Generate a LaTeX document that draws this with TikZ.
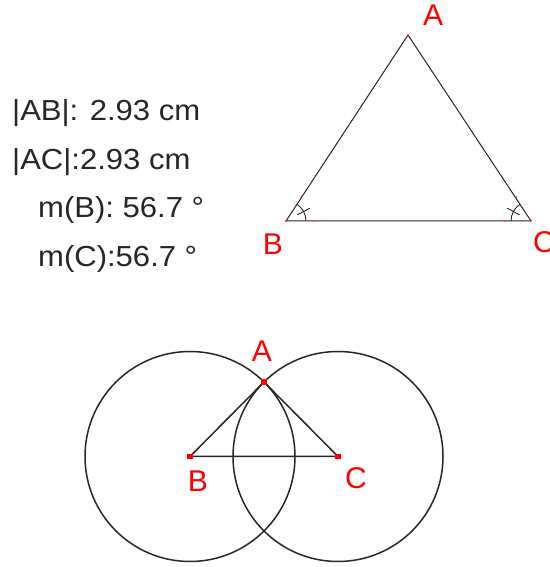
\documentclass[tikz,border=0pt]{standalone}
\usepackage{fontspec}
\setmainfont{Liberation Sans}
\newcommand{\wide}[1]{\scalebox{1.07}[1]{#1}}
\begin{document}
\begin{tikzpicture}[x=1pt,y=1pt,
  seg/.style={draw=black!85, line width=1pt},
  segb/.style={draw=black!85, line width=1.5pt},
  lbl/.style={text=red, inner sep=0pt, font=\fontsize{30}{30}\selectfont},
  meas/.style={anchor=base west, inner sep=0pt, text=black!85, font=\fontsize{29}{29}\selectfont},
  pt/.style={fill=red, draw=none},
  tinypt/.style={fill=red!80, draw=none}]
\useasboundingbox (0,0) rectangle (549,567);
\fill[white] (0,0) rectangle (549,567);
% measurements
\node[meas] (t1) at (12,446.5) {\wide{|AB|: 2.93 cm}};
\node[meas] (t2) at (12,397) {\wide{|AC|:2.93 cm}};
\node[meas] (t3) at (38,349) {\wide{m(B): 56.7 °}};
\node[meas] (t4) at (38,300) {\wide{m(C):56.7 °}};
% top triangle
\coordinate (A) at (408,532);
\coordinate (B) at (286,346);
\coordinate (C) at (531,346);
\draw[seg] (A) -- (B) -- (C) -- cycle;
% angle marks
\draw[seg, line width=0.9pt] (B) ++(20,0) arc[start angle=0, end angle=56.7, radius=20];
\draw[seg, line width=0.9pt] (B) ++(28.35:13) -- ++(28.35:14);
\draw[seg, line width=0.9pt] (C) ++(-20,0) arc[start angle=180, end angle=123.3, radius=20];
\draw[seg, line width=0.9pt] (C) ++(151.65:13) -- ++(151.65:14);
% tiny red points
\fill[tinypt] (A) circle (1.2);
\fill[tinypt] (B) circle (1.2);
\fill[tinypt] (C) circle (1.2);
\fill[tinypt] (314,346) circle (1);
\fill[tinypt] (302,371) circle (1);
\fill[tinypt] (505,346) circle (1);
\fill[tinypt] (516,370) circle (1);
% labels top
\node[lbl] (lA) at (433,551.5) {A};
\node[lbl] (lB) at (273,323) {B};
\node[lbl] (lC) at (544,325) {C};
% bottom construction
\coordinate (A2) at (264,185);
\coordinate (B2) at (190,110.5);
\coordinate (C2) at (338,110.5);
\draw[segb] (B2) circle (105);
\draw[segb] (C2) circle (105);
\draw[segb] (A2) -- (B2) -- (C2) -- cycle;
\fill[pt] (A2) ++(-2.8,-2.8) rectangle ++(5.6,5.6);
\fill[pt] (B2) ++(-2.8,-2.8) rectangle ++(5.6,5.6);
\fill[pt] (C2) ++(-2.8,-2.8) rectangle ++(5.6,5.6);
\node[lbl] (lA2) at (262,216) {A};
\node[lbl] (lB2) at (198,86) {B};
\node[lbl] (lC2) at (356,89) {C};
\end{tikzpicture}
\end{document}
